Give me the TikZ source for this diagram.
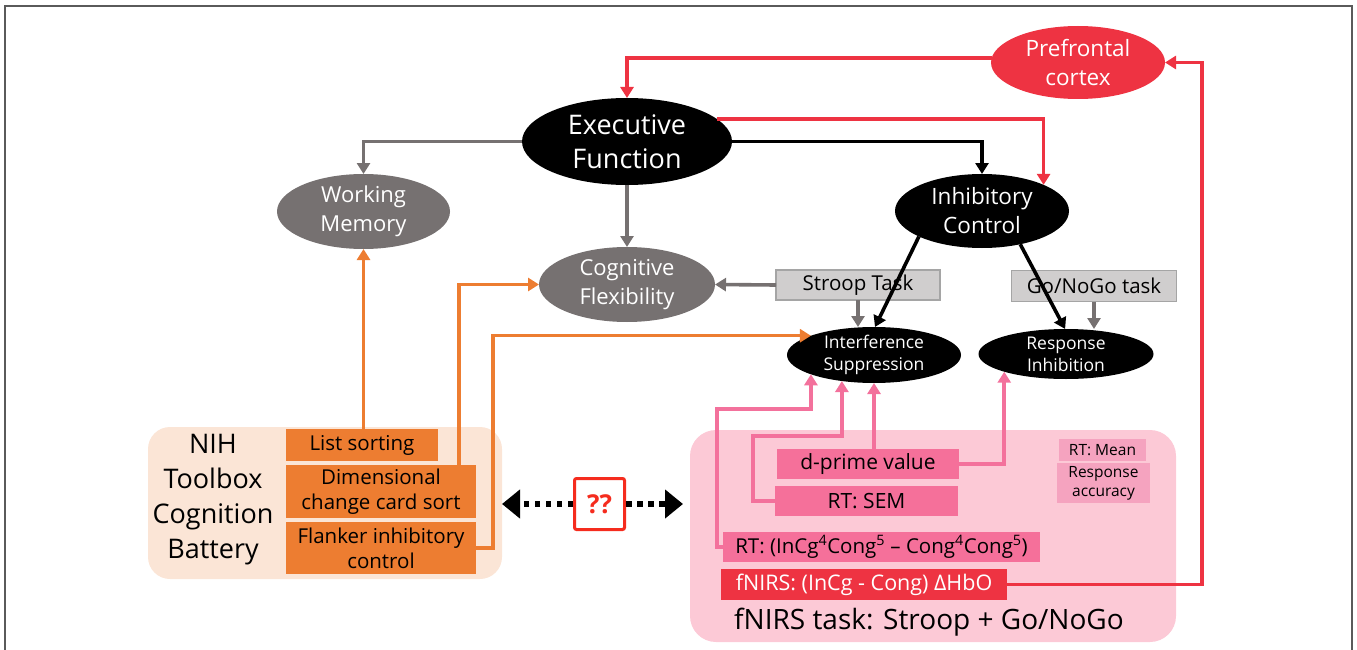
\documentclass[tikz,border=0pt]{standalone}
\usepackage{fontspec}
\setmainfont{Open Sans}
\usetikzlibrary{shapes.geometric,arrows.meta,calc,backgrounds}

\definecolor{efred}{HTML}{EE3342}
\definecolor{efgray}{HTML}{767171}
\definecolor{boxgray}{HTML}{D0CECE}
\definecolor{boxedge}{HTML}{A5A5A5}
\definecolor{orng}{HTML}{ED7D31}
\definecolor{peach}{HTML}{FBE5D6}
\definecolor{pinkbg}{HTML}{FCC9D6}
\definecolor{pinkbox}{HTML}{F5709A}
\definecolor{pinkline}{HTML}{F3719C}
\definecolor{lightpink}{HTML}{F5A3BF}
\definecolor{qred}{HTML}{F52C1E}
\definecolor{framegray}{HTML}{5A5A5A}

\newcommand{\fs}[2]{\fontsize{#1}{#2}\selectfont}

\tikzset{
  oval/.style={ellipse, inner sep=0pt, outer sep=0pt, align=center, text=white},
  graybox/.style={rectangle, fill=boxgray, draw=boxedge, line width=1.2pt,
    inner sep=0pt, outer sep=0pt, font=\fs{20.5}{25}},
  orbox/.style={rectangle, fill=orng, inner sep=0pt, outer sep=0pt,
    align=center, font=\fs{20.5}{25}},
  pkbox/.style={rectangle, fill=pinkbox, inner sep=0pt, outer sep=0pt,
    align=center, font=\fs{21}{25}},
  ltbox/.style={rectangle, fill=lightpink, inner sep=0pt, outer sep=0pt,
    align=center, font=\fs{15.5}{19}},
  tip/.style={-{Triangle[width=13pt,length=11pt]}},
  grayarr/.style={tip, draw=efgray, line width=3.6pt},
  blackarr/.style={tip, draw=black, line width=3.6pt},
  redarr/.style={tip, draw=efred, line width=3.2pt},
  orarr/.style={tip, draw=orng, line width=3.2pt},
  pkarr/.style={tip, draw=pinkline, line width=3.6pt},
  dotarr/.style={draw=black, line width=5.5pt, dash pattern=on 5.5pt off 5.5pt,
    -{Triangle[width=28pt,length=18pt]}},
}

\begin{document}
\begin{tikzpicture}[x=1pt,y=-1pt]
\useasboundingbox (0,0) rectangle (1357,650);

% outer frame (open at the bottom)
\draw[framegray, line width=1.5pt] (5,650) -- (5,6) -- (1352,6) -- (1352,650);

% grouping panels
\node[rectangle, rounded corners=22pt, fill=peach, minimum width=354pt,
  minimum height=152pt, inner sep=0pt, outer sep=0pt] (nihbg) at (325,503) {};
\node[rectangle, rounded corners=26pt, fill=pinkbg, minimum width=486pt,
  minimum height=212pt, inner sep=0pt, outer sep=0pt] (fnbg) at (933,536) {};

% concept ovals
\node[oval, fill=efred, minimum width=174pt, minimum height=73pt, font=\fs{22.5}{29}]
  (pfc) at (1078,62.5) {Prefrontal\\cortex};
\node[oval, fill=black, minimum width=210pt, minimum height=87pt, font=\fs{27}{34}]
  (ef) at (627,141.5) {Executive\\Function};
\node[oval, fill=efgray, minimum width=173pt, minimum height=75pt, font=\fs{22}{29}]
  (wm) at (363.5,211.5) {Working\\Memory};
\node[oval, fill=efgray, minimum width=176pt, minimum height=75pt, font=\fs{22}{29}]
  (cf) at (627,284.5) {Cognitive\\Flexibility};
\node[oval, fill=black, minimum width=174pt, minimum height=74pt, font=\fs{22.5}{29}]
  (ic) at (982,211) {Inhibitory\\Control};
\node[oval, fill=black, minimum width=174pt, minimum height=50pt, font=\fs{17.5}{22}]
  (is) at (874,355) {Interference\\Suppression};
\node[oval, fill=black, minimum width=175pt, minimum height=50pt, font=\fs{17.5}{22}]
  (ri) at (1066,354) {Response\\Inhibition};

% task boxes
\node[graybox, minimum width=164pt, minimum height=30pt] (stroop) at (858,285) {Stroop Task};
\node[graybox, minimum width=165pt, minimum height=31pt] (gonogo) at (1094,286) {Go/NoGo task};

% NIH toolbox
\node[align=center, font=\fs{27}{35}] (nih) at (213,500)
  {NIH\\Toolbox\\Cognition\\Battery};
\node[orbox, minimum width=152pt, minimum height=32pt] (list) at (362,445) {List sorting};
\node[orbox, minimum width=190pt, minimum height=53pt] (dim) at (381,491.5)
  {Dimensional\\change card sort};
\node[orbox, minimum width=190pt, minimum height=52pt] (flank) at (381,548)
  {Flanker inhibitory\\control};

% fNIRS measures
\node[pkbox, minimum width=182pt, minimum height=30pt] (dprime) at (868,464) {d-prime value};
\node[pkbox, minimum width=183pt, minimum height=30pt] (sem) at (866.5,501) {RT: SEM};
\node[pkbox, minimum width=317pt, minimum height=30pt, font=\fs{20.5}{25}] (rtc) at (881.5,547)
  {RT: (InCg\textsuperscript{4}Cong\textsuperscript{5} – Cong\textsuperscript{4}Cong\textsuperscript{5})};
\node[pkbox, fill=efred, text=white, minimum width=286pt, minimum height=31pt, font=\fs{21.5}{25}]
  (fnirs) at (864,584.5) {fNIRS: (InCg - Cong) ΔHbO};
\node[ltbox, minimum width=87pt, minimum height=22pt] (rtmean) at (1102.5,450) {RT: Mean};
\node[ltbox, minimum width=93pt, minimum height=40pt] (racc) at (1103.5,483) {Response\\accuracy};
\node[font=\fs{28}{32}] (fntask) at (929,622) {fNIRS task: Stroop + Go/NoGo};

% unknown link between the two batteries
\node[rectangle, draw=qred, line width=3pt, rounded corners=2pt, fill=white,
  minimum width=50pt, minimum height=51pt, inner sep=0pt, text=qred,
  font=\fs{26}{30}\bfseries] (qq) at (599.5,504) {??};
\draw[dotarr] (qq.west) -- (qq.west -| nihbg.east);
\draw[dotarr, shorten >=7pt] (qq.east) -- (qq.east -| fnbg.west);

% top-down links
\draw[redarr] (pfc.177) -| (ef.north);
\draw[redarr] (ef.14) -| (ic.23);
\draw[blackarr] (ef.east) -| (ic.north);
\draw[grayarr] (ef.west) -| (wm.north);
\draw[grayarr] (ef.south) -- (cf.north);
\draw[grayarr] (stroop.west) -- (cf.east);
\draw[blackarr] (ic.202) -- (is.88);
\draw[blackarr] (ic.319) -- (ri.92);
\draw[grayarr] (stroop.south) -- (stroop.south |- is.north);
\draw[grayarr] (gonogo.south) -- (gonogo.south |- ri.north);

% NIH toolbox links
\draw[orarr] (list.north -| wm.south) -- (wm.south);
\draw[orarr] ($(dim.north east)+(-17,0)$) |- (cf.west);
\draw[orarr] (flank.east) -- ++(17,0) |- (is.163);

% fNIRS measure links
\draw[pkarr] (dprime.north -| is.south) -- (is.south);
\draw[pkarr] (dprime.east) -| (ri.196);
\draw[pkarr] (sem.west) -- ++(-22,0) |- ($(is.219)+(0,55)$) -- (is.219);
\draw[pkarr] (rtc.west) -- ++(-6,0) |- ($(is.197)+(0,35)$) -- (is.197);
\draw[redarr] (fnirs.east) -- ++(195,0) |- (pfc.east);

\end{tikzpicture}
\end{document}
